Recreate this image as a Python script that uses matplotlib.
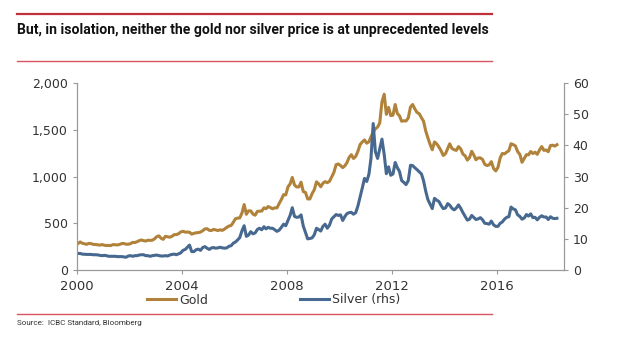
import numpy as np
import pandas as pd
import matplotlib.pyplot as plt
import matplotlib.dates as mdates
from matplotlib.lines import Line2D

# Monthly gold price, USD/oz (2000-01 .. 2018-04)
gold = [
    284, 300, 286, 280, 275, 285, 282, 274, 273, 270, 266, 272,
    265, 262, 263, 261, 272, 270, 268, 273, 283, 283, 276, 276,
    282, 296, 294, 302, 314, 321, 314, 310, 319, 317, 319, 333,
    357, 365, 340, 328, 360, 356, 351, 360, 379, 378, 389, 407,
    414, 405, 406, 404, 384, 392, 398, 400, 406, 420, 439, 442,
    424, 423, 434, 429, 422, 430, 424, 438, 456, 470, 476, 510,
    549, 555, 557, 610, 700, 596, 633, 632, 598, 586, 627, 629,
    631, 665, 655, 679, 667, 655, 665, 665, 712, 754, 806, 803,
    889, 922, 990, 909, 888, 889, 939, 839, 829, 760, 760, 816,
    858, 943, 924, 890, 928, 945, 934, 949, 996, 1043, 1127, 1134,
    1118, 1095, 1113, 1148, 1205, 1233, 1193, 1215, 1271, 1342, 1370, 1391,
    1356, 1372, 1424, 1474, 1510, 1529, 1572, 1800, 1880, 1665, 1739, 1652,
    1656, 1770, 1675, 1649, 1591, 1596, 1594, 1626, 1744, 1770, 1722, 1685,
    1671, 1628, 1593, 1487, 1414, 1343, 1286, 1370, 1349, 1316, 1275, 1225,
    1244, 1300, 1350, 1299, 1287, 1279, 1320, 1296, 1239, 1222, 1176, 1201,
    1270, 1227, 1179, 1199, 1199, 1182, 1131, 1117, 1125, 1159, 1086, 1060,
    1097, 1199, 1246, 1242, 1260, 1276, 1350, 1341, 1326, 1266, 1236, 1152,
    1192, 1234, 1231, 1267, 1246, 1260, 1237, 1283, 1320, 1280, 1283, 1265,
    1331, 1335, 1325, 1340,
]

# Monthly silver price, USD/oz (rhs)
silver = [
    5.3, 5.3, 5.1, 5.05, 5.0, 5.0, 5.0, 4.9, 4.9, 4.85, 4.7, 4.6,
    4.7, 4.6, 4.4, 4.4, 4.4, 4.4, 4.3, 4.3, 4.3, 4.2, 4.1, 4.5,
    4.6, 4.4, 4.6, 4.6, 4.8, 4.9, 4.9, 4.6, 4.6, 4.4, 4.6, 4.7,
    4.8, 4.6, 4.5, 4.5, 4.6, 4.5, 4.8, 5.0, 5.1, 4.9, 5.2, 5.5,
    6.3, 6.6, 7.3, 8.0, 5.9, 5.9, 6.5, 6.7, 6.3, 7.2, 7.5, 7.0,
    6.6, 7.1, 7.2, 7.0, 7.1, 7.3, 7.1, 7.0, 7.1, 7.6, 7.8, 8.6,
    9.0, 9.7, 10.4, 12.6, 14.2, 10.8, 11.2, 12.3, 11.6, 11.9, 13.0, 13.4,
    12.9, 13.9, 13.2, 13.7, 13.4, 13.4, 12.9, 12.4, 12.8, 13.7, 14.7, 14.2,
    15.9, 17.6, 20.0, 17.2, 16.9, 17.0, 17.7, 14.1, 12.0, 10.0, 10.1, 10.3,
    11.3, 13.4, 13.0, 12.5, 14.0, 14.7, 13.4, 14.4, 16.4, 17.1, 17.8, 17.5,
    17.7, 15.9, 17.1, 18.1, 18.4, 18.5, 17.9, 18.4, 20.6, 23.4, 26.4, 29.4,
    28.4, 30.8, 35.8, 47.0, 38.0, 35.8, 38.9, 42.0, 37.1, 30.9, 33.1, 30.4,
    30.8, 34.5, 32.9, 31.6, 28.7, 28.1, 27.4, 28.7, 33.6, 33.5, 32.8, 32.2,
    31.5, 30.8, 28.7, 25.3, 22.6, 21.1, 19.7, 23.0, 22.4, 22.0, 20.7, 19.7,
    19.9, 21.3, 20.8, 19.8, 19.3, 19.9, 20.9, 19.8, 18.4, 17.2, 16.0, 16.3,
    17.5, 16.8, 16.2, 16.4, 16.8, 16.1, 15.0, 14.9, 14.7, 15.7, 14.5, 14.0,
    14.0, 15.0, 15.4, 16.3, 16.9, 17.1, 20.2, 19.6, 19.3, 17.7, 17.2, 16.3,
    16.7, 17.8, 17.3, 18.0, 16.8, 16.9, 16.1, 16.9, 17.4, 17.0, 17.0, 16.2,
    17.1, 16.6, 16.5, 16.6,
]

dates = pd.date_range("2000-01-01", periods=len(gold), freq="MS") + pd.Timedelta(days=14)
year_ticks = [2000, 2004, 2008, 2012, 2016]

gold_col = "#B0823A"
silver_col = "#48698F"
red = "#C0303A"
txt = "#333333"

fig = plt.figure(figsize=(6.4, 3.43), dpi=100)
ax = fig.add_axes([0.1203, 0.2128, 0.7607, 0.5452])
ax2 = ax.twinx()

l1, = ax.plot(dates, gold, color=gold_col, lw=2.2, label="Gold")
l2, = ax2.plot(dates, silver, color=silver_col, lw=2.2, label="Silver (rhs)")

ax.set_ylim(0, 2000)
ax.set_yticks([0, 500, 1000, 1500, 2000])
ax.set_yticklabels(["0", "500", "1,000", "1,500", "2,000"])
ax2.set_ylim(0, 60)
ax2.set_yticks(range(0, 61, 10))
ax.set_xlim(pd.Timestamp("2000-01-01"), pd.Timestamp("2018-07-20"))
ax.set_xticks([pd.Timestamp(f"{y}-01-01") for y in year_ticks])
ax.xaxis.set_major_formatter(mdates.DateFormatter("%Y"))

for a in (ax, ax2):
    a.spines["top"].set_visible(False)
    for s in ("left", "right", "bottom"):
        a.spines[s].set_color("#999999")
        a.spines[s].set_linewidth(0.8)
    a.tick_params(colors="#999999", labelcolor=txt, labelsize=9, length=3, width=0.8)
ax.tick_params(axis="x", pad=4, labelsize=9.5)

fig.legend(handles=[l1, l2], loc="center left", bbox_to_anchor=(141 / 640, 1 - 300 / 343),
           ncol=2, frameon=False, handlelength=2.3, handletextpad=0.3, columnspacing=7.3,
           borderpad=0, fontsize=9, labelcolor=txt)

# header / footer rules
fig.add_artist(Line2D([17 / 640, 492 / 640], [1 - 14 / 343] * 2, color=red, lw=1.6))
fig.add_artist(Line2D([17 / 640, 492 / 640], [1 - 61 / 343] * 2, color="#D9555E", lw=1.0))
fig.add_artist(Line2D([17 / 640, 492 / 640], [1 - 314 / 343] * 2, color="#D9555E", lw=1.0))

title = fig.text(17 / 640, 1 - 30 / 343,
                 "But, in isolation, neither the gold nor silver price is at unprecedented levels",
                 fontsize=10.5, fontweight="bold", family=["Roboto", "DejaVu Sans"],
                 color="#111111", va="center")
src = fig.text(17 / 640, 1 - 323 / 343, "Source:  ICBC Standard, Bloomberg", fontsize=6.5,
               family=["Roboto", "DejaVu Sans"], color=txt, va="center")

# shrink texts to roughly the widths seen in the reference
r = fig.canvas.get_renderer()
for t, w in ((title, 470), (src, 125)):
    cur = t.get_window_extent(r).width
    if cur > w:
        t.set_fontsize(t.get_fontsize() * w / cur)

fig.savefig("out.png", dpi=100)
